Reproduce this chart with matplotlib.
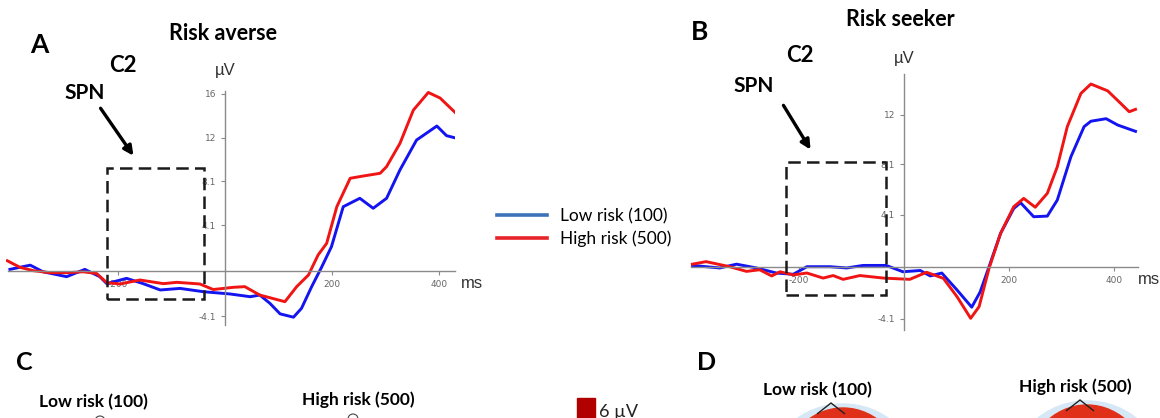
import numpy as np
import matplotlib
matplotlib.use("Agg")
import matplotlib.pyplot as plt
from matplotlib.patches import Rectangle, Ellipse, Polygon
from matplotlib.lines import Line2D

W, H = 1160, 418

# ---- data (ms, uV) ----
a_red_t = [-407, -383, -358, -327, -296, -265, -240, -221, -196, -159, -115, -90, -47, -22,
           16, 37, 65, 112, 134, 156, 174, 190, 209, 234, 258, 290, 302, 327, 352, 380, 402, 430]
a_red_v = [0.9, 0.3, 0.0, -0.18, -0.18, -0.1, -0.25, -1.08, -1.2, -0.84, -1.17, -1.05, -1.2, -1.7,
           -1.5, -1.44, -2.2, -2.8, -1.44, -0.39, 1.42, 2.47, 5.78, 8.35, 8.55, 8.8, 9.4, 11.5, 14.5, 16.1, 15.6, 14.3]
a_blue_t = [-402, -364, -340, -296, -262, -234, -221, -184, -153, -121, -84, -40, 9, 47, 65,
            84, 103, 128, 143, 162, 181, 199, 221, 252, 277, 302, 327, 358, 396, 414, 430]
a_blue_v = [0.12, 0.5, -0.1, -0.54, 0.12, -0.54, -1.17, -0.69, -1.17, -1.74, -1.6, -1.9, -2.1, -2.35, -2.2,
            -2.95, -3.9, -4.2, -3.4, -1.44, 0.36, 2.17, 5.78, 6.54, 5.64, 6.54, 9.1, 11.8, 13.07, 12.2, 12.0]

b_red_t = [-403, -377, -332, -300, -275, -252, -236, -211, -185, -154, -135, -116, -84, -39, 11, 43,
           75, 101, 127, 143, 162, 184, 209, 228, 250, 273, 292, 311, 337, 356, 388, 413, 429, 441]
b_red_v = [0.2, 0.4, 0.0, -0.37, -0.24, -0.73, -0.4, -0.65, -0.5, -0.9, -0.7, -1.0, -0.7, -0.9, -1.0, -0.44,
           -0.92, -2.37, -4.08, -3.16, -0.13, 2.64, 4.74, 5.4, 4.7, 5.8, 7.9, 11.07, 13.7, 14.44, 13.9, 12.9, 12.25, 12.44]
b_blue_t = [-403, -351, -319, -281, -243, -211, -185, -141, -109, -78, -34, -2, 31, 50, 72, 101,
            129, 145, 162, 184, 209, 222, 247, 273, 292, 318, 343, 356, 385, 407, 441]
b_blue_v = [0.1, -0.1, 0.2, -0.1, -0.5, -0.6, 0.0, 0.0, -0.1, 0.1, 0.1, -0.4, -0.3, -0.73, -0.5, -1.84,
            -3.2, -2.0, 0.0, 2.64, 4.6, 5.06, 3.95, 4.0, 5.27, 8.7, 11.07, 11.5, 11.7, 11.2, 10.7]

x_ticks = [-200, 200, 400]
x_ticklabels = ["-200", "200", "400"]
a_yticks = [16, 12, 8.1, 4.1, -4.1]
b_yticks = [12, 8.1, 4.1, -4.1]
legend_labels = ["Low risk (100)", "High risk (500)"]

BLUE, RED = "#1414f0", "#f01414"
BOLD = dict(family=["Lato", "DejaVu Sans"], weight="bold")
PLAIN = dict(family=["Liberation Sans", "DejaVu Sans"])

fig = plt.figure(figsize=(W / 100, H / 100), dpi=100)


def fbox(x0, y0, x1, y1):
    return [x0 / W, 1 - y1 / H, (x1 - x0) / W, (y1 - y0) / H]


def fp(x, y):
    return (x / W, 1 - y / H)


def erp_axes(x0, y0, kx, ky, xlim, ylim, ybounds, yticks):
    left, right = x0 + kx * xlim[0], x0 + kx * xlim[1]
    top, bottom = y0 - ky * ylim[1], y0 - ky * ylim[0]
    ax = fig.add_axes(fbox(left, top, right, bottom))
    ax.set_xlim(xlim)
    ax.set_ylim(ylim)
    ax.patch.set_alpha(0)
    ax.spines["top"].set_visible(False)
    ax.spines["right"].set_visible(False)
    ax.spines["left"].set_position(("data", 0))
    ax.spines["bottom"].set_position(("data", 0))
    ax.spines["left"].set_bounds(*ybounds)
    ax.spines["bottom"].set_bounds(xlim[0] + 5, xlim[1])
    for s in ["left", "bottom"]:
        ax.spines[s].set_color("#8a8a8a")
        ax.spines[s].set_linewidth(1.0)
    ax.set_xticks(x_ticks)
    ax.set_xticklabels(x_ticklabels)
    ax.set_yticks(yticks)
    ax.set_yticklabels([str(v) for v in yticks])
    ax.tick_params(labelsize=6.5, colors="#8a8a8a", labelcolor="#666666", length=3, width=0.8)
    return ax


# panel A
axA = erp_axes(225, 270.7, 0.535, 11.07, (-410, 430), (-5, 16.5), (-4.9, 16.2), a_yticks)
axA.plot(a_blue_t, a_blue_v, color=BLUE, lw=2.1, solid_joinstyle="round")
axA.plot(a_red_t, a_red_v, color=RED, lw=2.1, solid_joinstyle="round")
axA.add_patch(Rectangle((-220, -2.56), 180, 9.28 + 2.56,
                        fill=False, ec="#1a1a1a", lw=1.8, ls=(0, (5, 2.5)), clip_on=False, zorder=5))

# panel B
axB = erp_axes(904, 266.7, 0.525, 12.65, (-410, 445), (-5.2, 15.5), (-5.0, 15.2), b_yticks)
axB.plot(b_blue_t, b_blue_v, color=BLUE, lw=2.1, solid_joinstyle="round")
axB.plot(b_red_t, b_red_v, color=RED, lw=2.1, solid_joinstyle="round")
axB.add_patch(Rectangle((-225, -2.24), 190, 8.28 + 2.24,
                        fill=False, ec="#1a1a1a", lw=1.8, ls=(0, (5, 2.5)), clip_on=False, zorder=5))

# labels
fig.text(*fp(39, 45), "A", ha="center", va="center", fontsize=19, **BOLD)
fig.text(*fp(223, 33), "Risk averse", ha="center", va="center", fontsize=15.5, **BOLD)
fig.text(*fp(123, 65), "C2", ha="center", va="center", fontsize=16, **BOLD)
fig.text(*fp(85, 93), "SPN", ha="center", va="center", fontsize=15, **BOLD)
fig.text(*fp(225, 71), "\u00b5V", ha="center", va="center", fontsize=12, color="#333333", **PLAIN)
fig.text(*fp(461, 283), "ms", ha="left", va="center", fontsize=12, color="#333333", **PLAIN)

fig.text(*fp(700, 32), "B", ha="center", va="center", fontsize=19, **BOLD)
fig.text(*fp(900, 20), "Risk seeker", ha="center", va="center", fontsize=15.5, **BOLD)
fig.text(*fp(800, 55), "C2", ha="center", va="center", fontsize=16, **BOLD)
fig.text(*fp(754, 86), "SPN", ha="center", va="center", fontsize=15, **BOLD)
fig.text(*fp(904, 58), "\u00b5V", ha="center", va="center", fontsize=12, color="#333333", **PLAIN)
fig.text(*fp(1138, 280), "ms", ha="left", va="center", fontsize=12, color="#333333", **PLAIN)

for (x1, y1), (x2, y2) in [((99, 106), (135, 158)), ((782, 103), (812, 152))]:
    fig.add_artist(matplotlib.patches.FancyArrowPatch(
        fp(x1, y1), fp(x2, y2), transform=fig.transFigure, arrowstyle="-|>",
        mutation_scale=14, lw=2.4, color="black"))

# legend
handles = [Line2D([], [], color="#3d72b8", lw=2.6), Line2D([], [], color="#e8232a", lw=2.6)]
fig.legend(handles, legend_labels, loc="upper left", bbox_to_anchor=fp(497, 208),
           frameon=False, handlelength=2.9, handletextpad=0.75,
           labelspacing=0.35, borderpad=0, borderaxespad=0,
           prop=dict(family=["Lato", "DejaVu Sans"], size=12.5))

# bottom row (C / D)
fig.text(*fp(24, 362), "C", ha="center", va="center", fontsize=18, **BOLD)
fig.text(*fp(93, 402), "Low risk (100)", ha="center", va="center", fontsize=12.5, **BOLD)
fig.text(*fp(358, 400), "High risk (500)", ha="center", va="center", fontsize=12.5, **BOLD)
fig.text(*fp(599, 412), "6 \u00b5V", ha="left", va="center", fontsize=13, color="#222222",
         family=["Lato", "DejaVu Sans"])
fig.text(*fp(707, 363), "D", ha="center", va="center", fontsize=18, **BOLD)
fig.text(*fp(817, 390), "Low risk (100)", ha="center", va="center", fontsize=12.5, **BOLD)
fig.text(*fp(1075, 387), "High risk (500)", ha="center", va="center", fontsize=12.5, **BOLD)

# head outlines (only the top is visible)
deco = fig.add_axes([0, 0, 1, 1], zorder=-1)
deco.set_xlim(0, W)
deco.set_ylim(H, 0)
deco.axis("off")
deco.add_patch(Rectangle((577, 398), 18, 22, color="#b00000"))
for cx, top, nose in [(843, 408, 831), (1087, 405, 1080)]:
    outer = Ellipse((cx, top + 66), 150, 140, color="#d6e8f5")
    deco.add_patch(outer)
    inner = Ellipse((cx, top + 70), 126, 140, color="#e0301a")
    deco.add_patch(inner)
    warm = Ellipse((cx + 48, top + 76), 36, 140, color="#f5b020")
    deco.add_patch(warm)
    warm.set_clip_path(inner)
    deco.add_patch(Polygon([(nose - 14, top + 6), (nose, top - 5), (nose + 14, top + 6)],
                           closed=False, fill=False, ec="#222222", lw=1))
for cx, cy in [(100, 421), (353, 419)]:
    deco.add_patch(Ellipse((cx, cy), 10, 10, fill=False, ec="#444444", lw=0.8))

fig.savefig("out.png", dpi=100)
